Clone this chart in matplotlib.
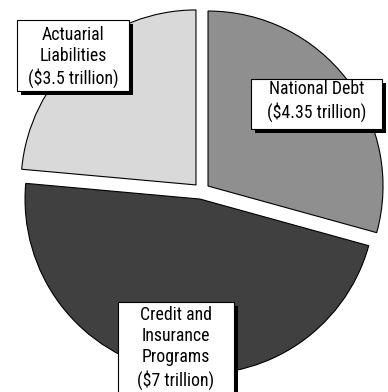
import matplotlib
matplotlib.use("Agg")
import matplotlib.pyplot as plt
from matplotlib.patches import Rectangle
from matplotlib import font_manager

# Data
categories = ["National Debt", "Credit and\nInsurance\nPrograms", "Actuarial\nLiabilities"]
values = [4.35, 7, 3.5]  # trillions of dollars
colors = ["#8f8f8f", "#404040", "#d9d9d9"]

W, H = 388, 392
fig = plt.figure(figsize=(W / 100, H / 100), dpi=100)
ax = fig.add_axes([0, 0, 1, 1])

R = 175
center = (201.5, H - 191)
ax.pie(values, colors=colors, startangle=90, counterclock=False,
       radius=R, center=center, explode=[8.2] * len(values),
       wedgeprops=dict(edgecolor="black", linewidth=0.8),
       frame=True)
ax.set_xlim(0, W)
ax.set_ylim(0, H)
ax.set_axis_off()

names = set(f.name for f in font_manager.fontManager.ttflist)
cond = [n for n in ["Liberation Sans Narrow", "Arial Narrow", "Roboto Condensed",
                    "Open Sans Condensed"] if n in names]
if cond:
    fam = [cond[0], "DejaVu Sans"]
    fsize, lsp = 12.8, 1.22
else:
    fam = ["Liberation Sans", "DejaVu Sans"]
    fsize, lsp = 11, 1.5

# label boxes: (x0, y0, x1, y1) in pixel coords (top-left origin)
boxes = {
    0: (251, 79, 382, 129),
    1: (118, 302, 234, 400),
    2: (17, 20, 129, 91),
}
text_centers = {0: (316.5, 101), 1: (176, 348), 2: (73, 57)}

for i, (name, val) in enumerate(zip(categories, values)):
    x0, y0, x1, y1 = boxes[i]
    w, h = x1 - x0, y1 - y0
    ax.add_patch(Rectangle((x0 + 4, H - y1 - 4), w, h, facecolor="black",
                           edgecolor="none", zorder=5))
    ax.add_patch(Rectangle((x0, H - y1), w, h, facecolor="white",
                           edgecolor="black", linewidth=0.8, zorder=6))
    label = f"{name}\n(${val:g} trillion)"
    tx, ty = text_centers[i]
    ax.text(tx, H - ty, label, ha="center", va="center", fontsize=fsize,
            family=fam, linespacing=lsp, zorder=7, color="black")

fig.savefig("out.png", dpi=100)
